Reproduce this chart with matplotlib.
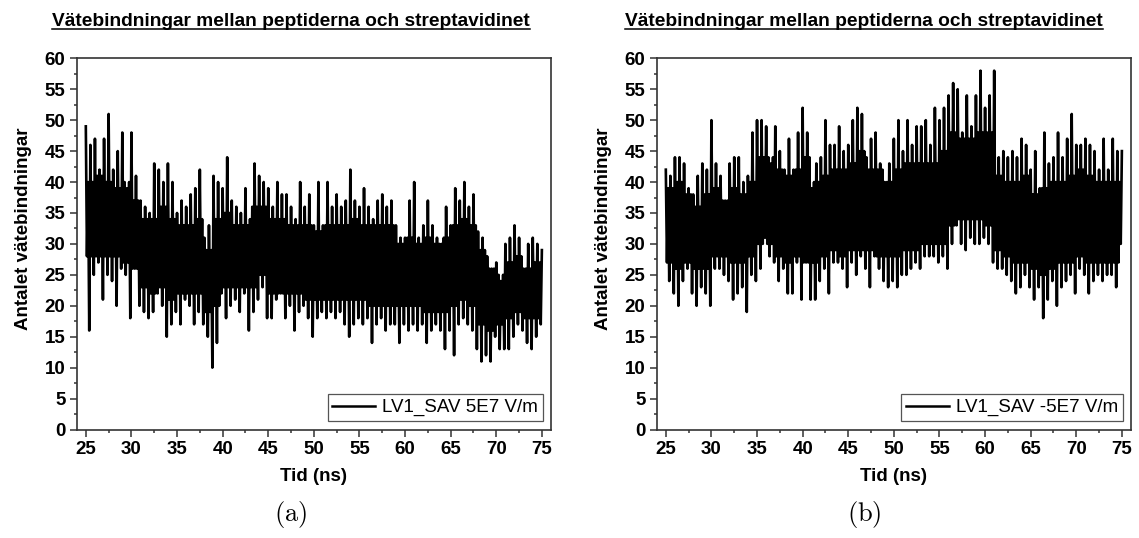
import matplotlib
matplotlib.use('Agg')
import matplotlib.pyplot as plt
from matplotlib.lines import Line2D
from matplotlib.ticker import MultipleLocator

# Number of hydrogen bonds.
# hi/lo: the spike tops and bottoms, one pair every 0.5 ns
# core_hi/core_lo: edges of the solid black band, one value per ns
t_start = 25.0
t_step = 0.5

hi_a = [49, 46, 47, 42, 47, 51, 42, 45, 48, 39,
        48, 41, 37, 36, 35, 43, 42, 40, 43, 40,
        35, 37, 36, 38, 39, 42, 31, 33, 41, 40,
        39, 44, 37, 36, 35, 39, 34, 43, 41, 40,
        39, 36, 40, 38, 38, 36, 34, 40, 36, 38,
        33, 40, 33, 40, 36, 38, 36, 37, 42, 37,
        36, 39, 36, 34, 37, 38, 36, 37, 33, 31,
        31, 37, 40, 31, 33, 37, 33, 31, 30, 36,
        33, 39, 37, 40, 36, 38, 32, 31, 28, 26,
        27, 24, 30, 31, 33, 31, 26, 30, 31, 30]
lo_a = [16, 25, 27, 21, 25, 24, 20, 26, 25, 18,
        26, 20, 19, 18, 19, 22, 20, 15, 17, 19,
        17, 21, 20, 17, 19, 17, 15, 10, 14, 22,
        18, 20, 21, 19, 22, 16, 19, 21, 23, 18,
        18, 21, 22, 18, 20, 16, 19, 20, 18, 15,
        18, 19, 18, 19, 18, 19, 17, 15, 17, 18,
        17, 18, 14, 17, 18, 16, 17, 17, 14, 17,
        16, 17, 16, 17, 14, 16, 17, 16, 13, 16,
        12, 17, 18, 17, 16, 13, 11, 12, 11, 15,
        13, 13, 13, 15, 17, 16, 14, 13, 15, 17]
core_hi_a = [40, 41, 40, 39, 40, 37, 34, 34, 36, 34,
             33, 33, 34, 29, 34, 35, 33, 33, 36, 36,
             34, 34, 33, 33, 33, 32, 33, 33, 33, 34,
             33, 33, 33, 33, 30, 31, 30, 31, 30, 31,
             33, 34, 33, 29, 26, 25, 27, 28, 26, 27]
core_lo_a = [28, 28, 28, 28, 27, 26, 23, 22, 23, 21,
             22, 22, 22, 19, 20, 23, 23, 23, 23, 25,
             22, 22, 22, 22, 21, 21, 21, 21, 21, 21,
             21, 20, 20, 20, 20, 20, 20, 19, 19, 19,
             20, 21, 20, 17, 16, 17, 18, 19, 18, 18]
last_a = 29

hi_b = [42, 41, 44, 44, 43, 39, 38, 41, 43, 42,
        50, 43, 41, 37, 43, 44, 44, 40, 41, 48,
        50, 50, 49, 43, 49, 45, 42, 47, 42, 48,
        52, 48, 39, 43, 44, 50, 46, 46, 49, 45,
        46, 50, 52, 51, 44, 47, 48, 43, 40, 43,
        47, 50, 45, 50, 46, 49, 49, 50, 46, 52,
        50, 52, 54, 56, 55, 48, 54, 49, 54, 58,
        52, 54, 58, 44, 45, 44, 45, 44, 47, 46,
        42, 45, 39, 48, 43, 44, 48, 44, 47, 51,
        46, 46, 47, 46, 45, 42, 47, 42, 47, 45]
lo_b = [24, 22, 20, 24, 26, 22, 20, 23, 22, 20,
        26, 26, 25, 24, 21, 22, 23, 19, 25, 24,
        26, 31, 28, 27, 24, 26, 22, 22, 27, 21,
        27, 21, 21, 24, 26, 22, 27, 27, 26, 23,
        27, 25, 28, 26, 23, 28, 26, 24, 23, 24,
        23, 25, 25, 26, 27, 26, 28, 28, 28, 27,
        28, 26, 30, 33, 30, 29, 31, 30, 30, 31,
        30, 27, 26, 26, 25, 24, 22, 23, 25, 23,
        21, 23, 18, 21, 24, 20, 23, 24, 25, 22,
        26, 25, 22, 24, 25, 24, 25, 25, 23, 30]
core_hi_b = [39, 40, 38, 36, 38, 39, 37, 39, 38, 40,
             44, 44, 42, 41, 42, 44, 40, 41, 42, 42,
             43, 45, 42, 42, 40, 42, 43, 43, 43, 43,
             45, 48, 47, 47, 48, 48, 41, 40, 40, 41,
             38, 39, 40, 40, 41, 42, 41, 40, 40, 40]
core_lo_b = [27, 26, 27, 26, 26, 28, 28, 27, 27, 28,
             30, 30, 28, 27, 28, 27, 27, 28, 29, 28,
             29, 29, 29, 28, 28, 28, 29, 29, 30, 30,
             30, 33, 34, 34, 34, 33, 29, 28, 27, 27,
             26, 25, 26, 27, 27, 28, 27, 27, 27, 27]
last_b = 45

title_str = 'Vätebindningar mellan peptiderna och streptavidinet'
xlabel_str = 'Tid (ns)'
ylabel_str = 'Antalet vätebindningar'
legend_a = 'LV1_SAV 5E7 V/m'
legend_b = 'LV1_SAV -5E7 V/m'

# style
plt.rcParams['font.family'] = ['Liberation Sans', 'DejaVu Sans']
plt.rcParams['mathtext.fontset'] = 'cm'
axis_color = '#333333'
W, H = 1139, 538


def build_series(hi, lo, core_hi, core_lo, last):
    # spike top, band bottom, band top, spike bottom inside each 0.5 ns
    t, y = [], []
    q = t_step / 4
    for i in range(len(hi)):
        t0 = t_start + i * t_step
        k = int(i * t_step)
        t += [t0, t0 + q, t0 + 2 * q, t0 + 3 * q]
        y += [hi[i], core_lo[k], core_hi[k], lo[i]]
    t.append(t_start + len(hi) * t_step)
    y.append(last)
    return t, y


def px_box(x0, x1, y0, y1):
    return [x0 / W, 1 - y1 / H, (x1 - x0) / W, (y1 - y0) / H]


def set_graph_parameters(ax):
    ax.set_xlim(24, 76)
    ax.set_ylim(0, 60)
    ax.xaxis.set_major_locator(MultipleLocator(5))
    ax.xaxis.set_minor_locator(MultipleLocator(2.5))
    ax.yaxis.set_major_locator(MultipleLocator(5))
    ax.yaxis.set_minor_locator(MultipleLocator(2.5))
    for s in ax.spines.values():
        s.set_color(axis_color)
        s.set_linewidth(1.2)
    ax.tick_params(which='major', direction='out', length=5, width=1.1,
                   color=axis_color, labelsize=13.5, pad=3)
    ax.tick_params(which='minor', direction='out', length=2.5, width=1.1,
                   color=axis_color)
    for lab in ax.get_xticklabels() + ax.get_yticklabels():
        lab.set_fontweight('bold')
    ax.set_xlabel(xlabel_str, fontsize=13.5, fontweight='bold')
    ax.set_ylabel(ylabel_str, fontsize=13.5, fontweight='bold')
    ax.xaxis.set_label_coords(0.5, -0.105)
    ax.yaxis.set_label_coords(-0.095, 0.54)
    leg = ax.legend(loc='lower right', fontsize=13.5, frameon=True,
                    fancybox=False, edgecolor='#555555', framealpha=1,
                    handlelength=2.3, handletextpad=0.35, borderpad=0.25,
                    borderaxespad=0.45)
    leg.get_frame().set_linewidth(0.9)
    leg.get_lines()[0].set_linewidth(1.8)


fig = plt.figure(figsize=(W / 100, H / 100), dpi=100)
ax_a = fig.add_axes(px_box(76.7, 551, 58.3, 429.5))
ax_b = fig.add_axes(px_box(656.7, 1131, 58.3, 429.5))

t_a, y_a = build_series(hi_a, lo_a, core_hi_a, core_lo_a, last_a)
t_b, y_b = build_series(hi_b, lo_b, core_hi_b, core_lo_b, last_b)
ax_a.plot(t_a, y_a, color='black', linewidth=1.9, label=legend_a)
ax_b.plot(t_b, y_b, color='black', linewidth=1.9, label=legend_b)
set_graph_parameters(ax_a)
set_graph_parameters(ax_b)

# titles with underline, and the (a)/(b) captions
titles = []
for xc in [291, 864]:
    titles.append(fig.text(xc / W, 1 - 26 / H, title_str, ha='center',
                           va='baseline', fontsize=13.8, fontweight='bold'))
fig.text(291 / W, 1 - 515 / H, r'$\mathrm{(a)}$', ha='center', va='center',
         fontsize=19)
fig.text(864 / W, 1 - 515 / H, r'$\mathrm{(b)}$', ha='center', va='center',
         fontsize=19)

fig.canvas.draw()
renderer = fig.canvas.get_renderer()
for t in titles:
    bb = t.get_window_extent(renderer).transformed(fig.transFigure.inverted())
    y_line = 1 - 29 / H
    fig.add_artist(Line2D([bb.x0, bb.x1], [y_line, y_line], color='black',
                          linewidth=1.1, transform=fig.transFigure))

fig.savefig('out.png', dpi=100)
